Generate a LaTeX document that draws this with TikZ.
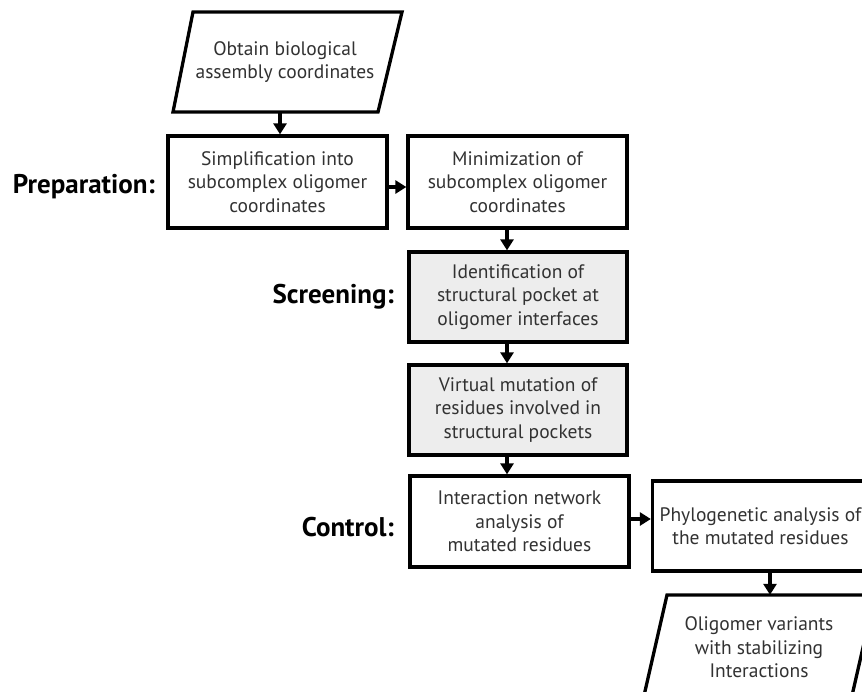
\documentclass[tikz,border=0pt]{standalone}
\usepackage{fontspec}
\setmainfont{PT Sans}
\usetikzlibrary{arrows.meta,calc}
\definecolor{boxgray}{RGB}{237,237,237}
\definecolor{txtcol}{RGB}{50,50,50}
\newcommand{\myBody}{\fontsize{19.5}{23.5}\selectfont}
\newcommand{\myLab}{\fontsize{27}{30}\selectfont\bfseries}
\begin{document}
\begin{tikzpicture}[x=1pt,y=-1pt,
  boxstyle/.style={draw=black, line width=3.3pt, minimum width=219pt, minimum height=91pt, inner sep=0pt, align=center, font=\myBody, text=txtcol},
  graybox/.style={boxstyle, fill=boxgray},
  plain/.style={inner sep=0pt, align=center, font=\myBody, text=txtcol},
  lab/.style={font=\myLab, anchor=base east, inner sep=0pt, text=black},
  arr/.style={line width=3.3pt, -{Triangle[width=13pt,length=11pt]}},
  para/.style={draw=black, line width=3.3pt, line join=miter}
]
\useasboundingbox (0,0) rectangle (862,691);
\clip (0,0) rectangle (862,691);
\fill[white] (0,0) rectangle (862,691);

% top parallelogram
\draw[para] (193,12) -- (402,12) -- (378,112) -- (173,112) -- cycle;
\node[plain, minimum height=100pt] (obtain) at (285,62) {Obtain biological\\assembly coordinates};

\node[boxstyle, minimum height=92pt] (simp) at (277.5,182) {Simplification into\\subcomplex oligomer\\coordinates};
\node[boxstyle, minimum height=92pt] (mini) at (517.5,182) {Minimization of\\subcomplex oligomer\\coordinates};
\node[graybox, minimum width=218pt, minimum height=90pt] (ident) at (518,297) {Identification of\\structural pocket at\\oligomer interfaces};
\node[graybox, minimum width=218pt, minimum height=90pt] (virt) at (518,410) {Virtual mutation of\\residues involved in\\structural pockets};
\node[boxstyle] (inter) at (519.5,521.5) {Interaction network\\analysis of\\mutated residues};
\node[boxstyle, minimum width=216pt, minimum height=90pt] (phylo) at (760.5,526) {Phylogenetic analysis of\\the mutated residues};

% bottom parallelogram
\draw[para] (667,595) -- (875,595) -- (851,700) -- (643,700) -- cycle;
\node[plain, minimum height=105pt] (olig) at (759,647.5) {Oligomer variants\\with stabilizing\\Interactions};

% labels
\node[lab] (prep) at (155,193) {Preparation:};
\node[lab] (scr) at (394,303) {Screening:};
\node[lab] (ctl) at (394,536) {Control:};

% arrows
\coordinate (xa) at (280,0);
\coordinate (xb) at (507,0);
\coordinate (xc) at (770,0);
\coordinate (ya) at (0,187);
\coordinate (yb) at (0,519);
\draw[arr] (obtain.south -| xa) -- (simp.north -| xa);
\draw[arr] (simp.east |- ya) -- (mini.west |- ya);
\draw[arr] (mini.south -| xb) -- (ident.north -| xb);
\draw[arr] (ident.south -| xb) -- (virt.north -| xb);
\draw[arr] (virt.south -| xb) -- (inter.north -| xb);
\draw[arr] (inter.east |- yb) -- (phylo.west |- yb);
\draw[arr] (phylo.south -| xc) -- (olig.north -| xc);
\end{tikzpicture}
\end{document}
